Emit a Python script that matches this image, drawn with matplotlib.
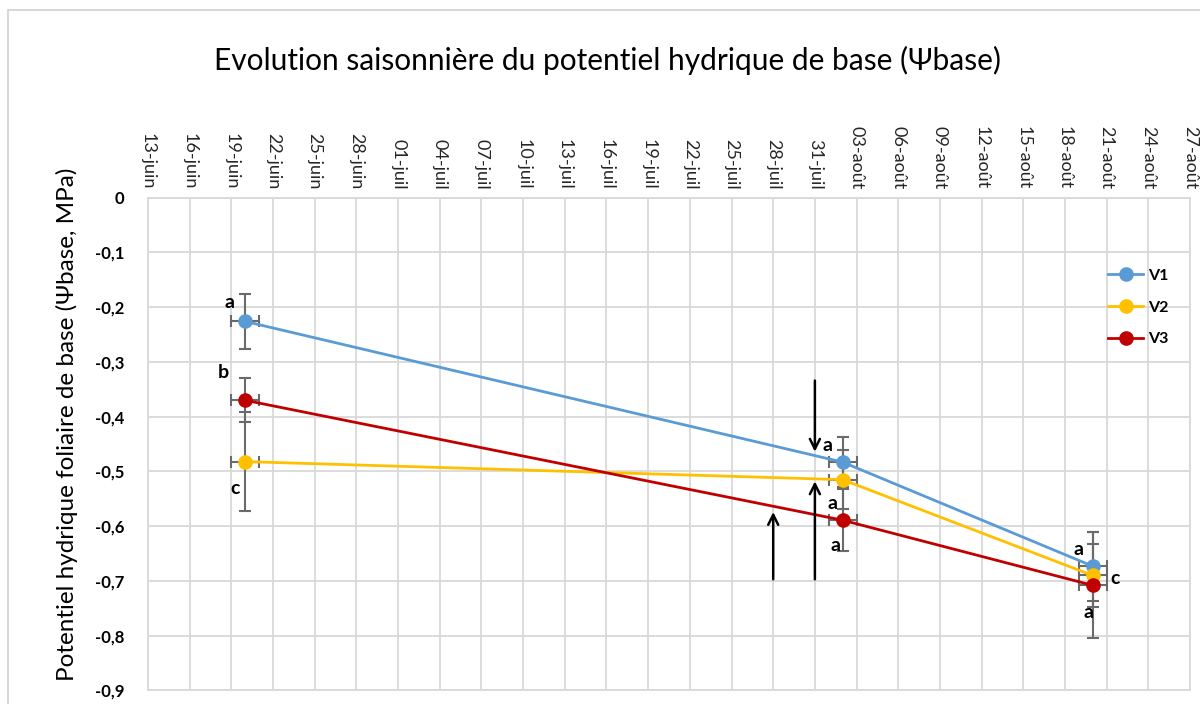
import datetime as dt
import matplotlib
matplotlib.use("Agg")
import matplotlib.pyplot as plt
import matplotlib.dates as mdates
from matplotlib.ticker import FuncFormatter, MultipleLocator
from matplotlib.patches import Rectangle

plt.rcParams['font.family'] = ['Lato', 'DejaVu Sans']

# ------------------------------------------------------------------
# data
# ------------------------------------------------------------------
dates = [dt.date(2019, 6, 20), dt.date(2019, 8, 2), dt.date(2019, 8, 20)]
series = ["V1", "V2", "V3"]
v1 = [-0.226, -0.483, -0.673]
v2 = [-0.482, -0.515, -0.690]
v3 = [-0.370, -0.589, -0.708]
v1_err = [0.050, 0.046, 0.063]
v2_err = [0.090, 0.054, 0.058]
v3_err = [0.040, 0.057, 0.097]
x_err_days = 1
colors = ["#5B9BD5", "#FFC000", "#C00000"]

months_fr = {6: "juin", 7: "juil", 8: "août"}
x_start = dt.date(2019, 6, 13)
x_end = dt.date(2019, 8, 27)

# letters of the statistical groups (text, date, value)
letters = [
    ("a", dt.datetime(2019, 6, 18, 20), -0.192),
    ("b", dt.datetime(2019, 6, 18, 11), -0.320),
    ("c", dt.datetime(2019, 6, 19, 6), -0.532),
    ("a", dt.datetime(2019, 7, 31, 21), -0.452),
    ("a", dt.datetime(2019, 8, 1, 7), -0.558),
    ("a", dt.datetime(2019, 8, 1, 12), -0.636),
    ("a", dt.datetime(2019, 8, 18, 23), -0.642),
    ("c", dt.datetime(2019, 8, 21, 14), -0.696),
    ("a", dt.datetime(2019, 8, 19, 16), -0.757),
]

# arrows (date, y start, y end)
arrows = [
    (dt.date(2019, 7, 31), -0.329, -0.469),
    (dt.date(2019, 7, 31), -0.702, -0.513),
    (dt.date(2019, 7, 28), -0.702, -0.569),
]

# ------------------------------------------------------------------
# plot
# ------------------------------------------------------------------
fig = plt.figure(figsize=(12, 7.04), dpi=100)
ax = fig.add_axes([0.1233, 0.0192, 0.8684, 0.7000])

# chart area border (Excel style)
fig.patches.append(Rectangle((8 / 1200, -0.2), 1.2, (704 - 10) / 704 + 0.2,
                             transform=fig.transFigure, fill=False,
                             edgecolor="#d0d0d0", linewidth=1.2))

for name, vals, errs, col in zip(series, [v1, v2, v3], [v1_err, v2_err, v3_err], colors):
    ax.errorbar(dates, vals, yerr=errs, xerr=dt.timedelta(days=x_err_days), fmt="none",
                ecolor="#6a6a6a", elinewidth=1.5, capsize=4, capthick=1.5, zorder=3)
    ax.plot(dates, vals, "-o", color=col, lw=2, markersize=9.5, label=name, zorder=4)

for txt, x, y in letters:
    ax.text(x, y, txt, fontsize=14, fontweight="bold", ha="center", va="center", zorder=5)

for x, y0, y1 in arrows:
    ax.annotate("", xy=(x, y1), xytext=(x, y0),
                arrowprops=dict(arrowstyle="->", color="black", lw=1.8, mutation_scale=18),
                zorder=6)

ax.set_xlim(x_start, x_end)
ax.set_ylim(-0.9, 0)
ax.set_xticks([x_start + dt.timedelta(days=3 * i) for i in range(26)])
ax.xaxis.set_major_formatter(FuncFormatter(
    lambda v, pos: "%02d-%s" % (mdates.num2date(v).day, months_fr[mdates.num2date(v).month])))
ax.xaxis.tick_top()
for lab in ax.get_xticklabels():
    lab.set_rotation(-90)
    lab.set_va("bottom")
    lab.set_ha("center")
    lab.set_fontsize(13)
    lab.set_color("#262626")

ax.yaxis.set_major_locator(MultipleLocator(0.1))
ax.yaxis.set_major_formatter(FuncFormatter(
    lambda v, pos: "0" if abs(v) < 1e-9 else ("%.1f" % v).replace(".", ",")))
for lab in ax.get_yticklabels():
    lab.set_fontweight("bold")
    lab.set_fontsize(12)
ax.tick_params(axis="both", length=0)
ax.tick_params(axis="y", pad=17)
ax.tick_params(axis="x", pad=6)

ax.grid(True, color="#d9d9d9", linewidth=1.3)
ax.set_axisbelow(True)
for sp in ax.spines.values():
    sp.set_color("#d9d9d9")
    sp.set_linewidth(1.3)

ax.set_ylabel("Potentiel hydrique foliaire de base (Ψbase, MPa)", fontsize=17.5)
ax.yaxis.set_label_coords(-0.067, 0.54)
fig.suptitle("Evolution saisonnière du potentiel hydrique de base (Ψbase)",
             x=0.506, y=0.935, fontsize=21.5)

ax.legend(loc="upper right", bbox_to_anchor=(0.993, 0.885), frameon=False,
          prop=dict(weight="bold", size=11.5), handlelength=2.2, labelspacing=1.1,
          handletextpad=0.3)

fig.savefig("out.png", dpi=100)
